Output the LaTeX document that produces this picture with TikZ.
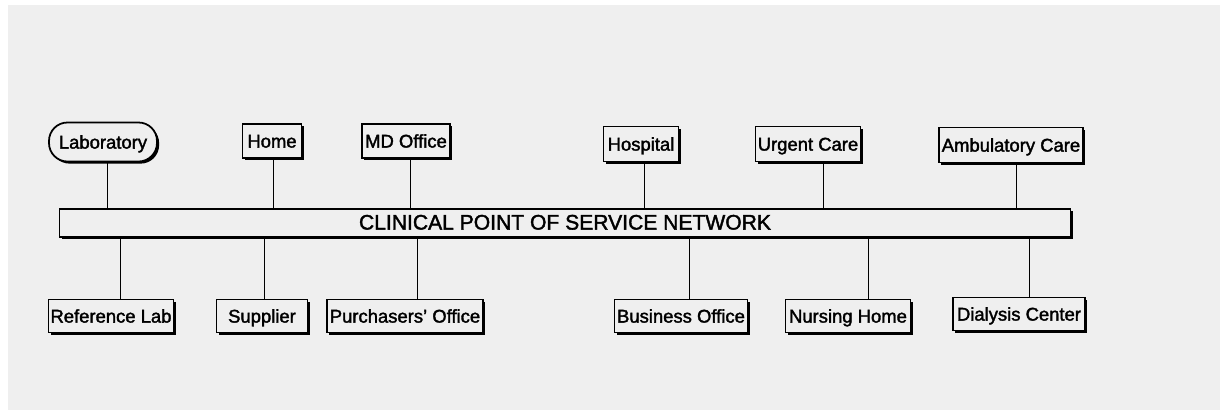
\documentclass[tikz,border=0pt]{standalone}
\usepackage{fontspec}
\setmainfont{Liberation Sans}
\newfontfamily\heavysans{Liberation Sans}[FakeBold=1.8]
\usetikzlibrary{shadows}

\definecolor{paper}{HTML}{EFEFEF}
\newlength\pxu
\setlength\pxu{0.02cm}

\begin{document}
\begin{tikzpicture}[x=0.02cm, y=-0.02cm,
    site/.style={draw, line width=1pt, fill=paper, inner sep=0pt,
      minimum height=34\pxu, text height=0.9em, text depth=0.15em,
      font=\heavysans\fontsize{10.5}{12}\selectfont,
      drop shadow={shadow xshift=1.2pt, shadow yshift=-1.2pt, fill=black, opacity=1}},
    labsite/.style={site, rounded corners=10.5pt, minimum height=39\pxu},
    network/.style={site, minimum height=28\pxu, font=\heavysans\fontsize{12}{14}\selectfont},
    link/.style={line width=0.5pt}]
  \useasboundingbox (0,0) rectangle (1225,410);

  % Paper
  \fill[white] (0,0) rectangle (1225,410);
  \fill[paper] (8,5) rectangle (1220,410);

  % Backbone
  \node[network, minimum width=1011\pxu] (net) at (565,223) {CLINICAL POINT OF SERVICE NETWORK};

  % Upper row of sites
  \node[labsite, minimum width=108\pxu] (lab) at (103,142) {Laboratory};
  \node[site, minimum width=59\pxu] (home) at (272,141) {Home};
  \node[site, minimum width=88\pxu] (mdoff) at (406,141) {MD Office};
  \node[site, minimum width=75\pxu, minimum height=35\pxu] (hosp) at (641,144) {Hospital};
  \node[site, minimum width=105\pxu, minimum height=35\pxu] (urgent) at (808,144) {Urgent Care};
  \node[site, minimum width=144\pxu, minimum height=35\pxu] (ambul) at (1011,145) {Ambulatory Care};

  % Lower row of sites
  \node[site, minimum width=125\pxu, minimum height=33\pxu] (reflab) at (111,316) {Reference Lab};
  \node[site, minimum width=91\pxu, minimum height=33\pxu] (supplier) at (262,316) {Supplier};
  \node[site, minimum width=156\pxu, minimum height=33\pxu] (purch) at (405,316) {Purchasers’ Office};
  \node[site, minimum width=133\pxu, minimum height=33\pxu] (business) at (681,316) {Business Office};
  \node[site, minimum width=125\pxu, minimum height=33\pxu] (nursing) at (848,316) {Nursing Home};
  \node[site, minimum width=132\pxu, minimum height=33\pxu] (dialysis) at (1019,314) {Dialysis Center};

  % Drops onto the backbone (a little off centre)
  \path (lab.south) ++(4,0) coordinate (lab-d);
  \path (home.south) ++(1,0) coordinate (home-d);
  \path (mdoff.south) ++(4,0) coordinate (mdoff-d);
  \path (hosp.south) ++(3,0) coordinate (hosp-d);
  \path (urgent.south) ++(15,0) coordinate (urgent-d);
  \path (ambul.south) ++(5,0) coordinate (ambul-d);
  \draw[link] (lab-d) -- (lab-d |- net.north);
  \draw[link] (home-d) -- (home-d |- net.north);
  \draw[link] (mdoff-d) -- (mdoff-d |- net.north);
  \draw[link] (hosp-d) -- (hosp-d |- net.north);
  \draw[link] (urgent-d) -- (urgent-d |- net.north);
  \draw[link] (ambul-d) -- (ambul-d |- net.north);

  % Drops from the backbone
  \path (reflab.north) ++(9,0) coordinate (reflab-d);
  \path (supplier.north) ++(2,0) coordinate (supplier-d);
  \path (purch.north) ++(12,0) coordinate (purch-d);
  \path (business.north) ++(8,0) coordinate (business-d);
  \path (nursing.north) ++(20,0) coordinate (nursing-d);
  \path (dialysis.north) ++(10,0) coordinate (dialysis-d);
  \draw[link] (net.south -| reflab-d) -- (reflab-d);
  \draw[link] (net.south -| supplier-d) -- (supplier-d);
  \draw[link] (net.south -| purch-d) -- (purch-d);
  \draw[link] (net.south -| business-d) -- (business-d);
  \draw[link] (net.south -| nursing-d) -- (nursing-d);
  \draw[link] (net.south -| dialysis-d) -- (dialysis-d);
\end{tikzpicture}
\end{document}
